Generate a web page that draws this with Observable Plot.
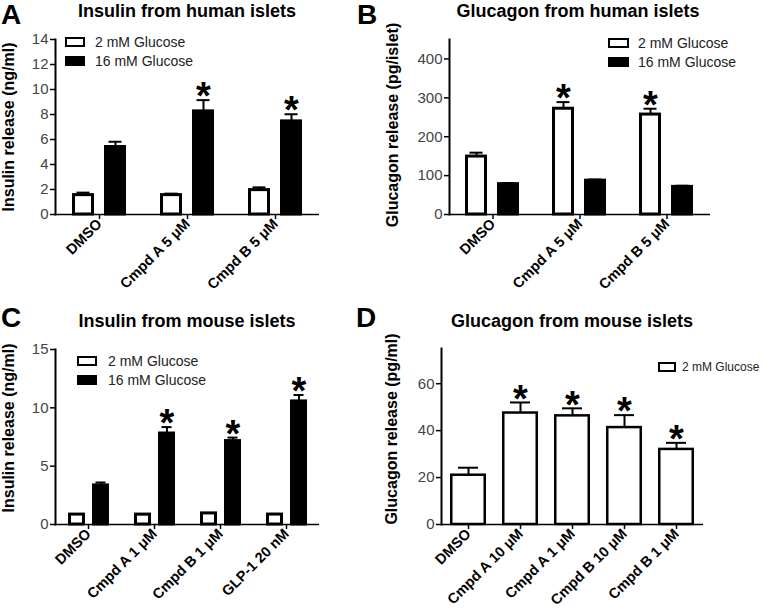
<!DOCTYPE html>
<html><head><meta charset="utf-8">
<script src="https://cdn.jsdelivr.net/npm/d3@7"></script>
<script src="https://cdn.jsdelivr.net/npm/@observablehq/plot@0.6"></script>
<style>
body{margin:0;background:#fff;}
#root{position:relative;width:762px;height:612px;font-family:Arial,"Liberation Sans",Helvetica,sans-serif;overflow:hidden;background:#fff;color:#000}
.panel{position:absolute;width:381px;height:306px}
.t{position:absolute;white-space:nowrap;line-height:1}
.letter{font-size:28px;font-weight:bold;transform:translate(-50%,-50%)}
.title{font-size:18px;font-weight:bold;transform:translate(-50%,-50%)}
.ylab{font-size:16px;font-weight:bold;transform:translate(-50%,-50%) rotate(-90deg)}
.leg{position:absolute;color:#222;white-space:nowrap;line-height:1}
.sw{position:absolute;box-sizing:border-box;border:2.5px solid #000}
</style></head><body><div id="root"></div>
<script>
const FONT = 'Arial, "Liberation Sans", Helvetica, sans-serif';

// ---- data ----
const seriesGlucose = ["2 mM Glucose", "16 mM Glucose"];
const seriesFill = ["#ffffff", "#000000"];

// A: Insulin from human islets (ng/ml)
const catsHuman = ["DMSO", "Cmpd A 5 μM", "Cmpd B 5 μM"];
const insHumanLow = [1.55, 1.55, 1.95];
const insHumanLowSem = [0.2, 0.12, 0.22];
const insHumanLowSig = [false, false, false];
const insHumanHigh = [5.4, 8.25, 7.45];
const insHumanHighSem = [0.42, 0.9, 0.57];
const insHumanHighSig = [false, true, true];
const insHumanTicks = [0, 2, 4, 6, 8, 10, 12, 14];

// B: Glucagon from human islets (pg/islet)
const gluHumanLow = [149, 272, 257];
const gluHumanLowSem = [10, 17, 15];
const gluHumanLowSig = [false, true, true];
const gluHumanHigh = [78, 87, 71];
const gluHumanHighSem = [3, 3, 3];
const gluHumanHighSig = [false, false, false];
const gluHumanTicks = [0, 100, 200, 300, 400];

// C: Insulin from mouse islets (ng/ml)
const catsMouseIns = ["DMSO", "Cmpd A 1 μM", "Cmpd B 1 μM", "GLP-1 20 nM"];
const insMouseLow = [0.85, 0.85, 0.95, 0.85];
const insMouseLowSem = [0.05, 0.03, 0.04, 0.06];
const insMouseLowSig = [false, false, false, false];
const insMouseHigh = [3.35, 7.8, 7.15, 10.55];
const insMouseHighSem = [0.25, 0.55, 0.3, 0.55];
const insMouseHighSig = [false, true, true, true];
const insMouseTicks = [0, 5, 10, 15];

// D: Glucagon from mouse islets (pg/ml), 2 mM glucose only
const catsMouseGlu = ["DMSO", "Cmpd A 10 μM", "Cmpd A 1 μM", "Cmpd B 10 μM", "Cmpd B 1 μM"];
const gluMouse = [21, 47.5, 46.3, 41.3, 32];
const gluMouseSem = [3.2, 4.5, 3.2, 5.3, 2.8];
const gluMouseSig = [false, true, true, true, true];
const gluMouseTicks = [0, 20, 40, 60];

// ---- helpers ----
function groupedRows(cats, lo, loSem, loSig, hi, hiSem, hiSig) {
  const rows = [];
  cats.forEach((c, i) => {
    rows.push({cat: c, series: seriesGlucose[0], mean: lo[i], sem: loSem[i], sig: loSig[i]});
    rows.push({cat: c, series: seriesGlucose[1], mean: hi[i], sem: hiSem[i], sig: hiSig[i]});
  });
  return rows;
}

const TICK_FS = 15, XLAB_FS = 14.5;

function groupedChart(cats, rows, yDomain, yTicks, m, capInset) {
  return Plot.plot({
    width: 381, height: 306,
    marginLeft: m[0], marginRight: m[1], marginTop: m[2], marginBottom: m[3],
    style: {fontFamily: FONT, background: "transparent", overflow: "visible", color: "#000"},
    fx: {domain: cats, padding: 0, label: null},
    x: {domain: seriesGlucose, paddingInner: 0.3, paddingOuter: 0.49, axis: null},
    y: {domain: yDomain, label: null},
    color: {domain: seriesGlucose, range: seriesFill},
    marks: [
      Plot.barY(rows, {fx: "cat", x: "series", y: "mean", fill: "series", stroke: "#000", strokeWidth: 3, insetLeft: 1.5, insetRight: 1.5}),
      Plot.ruleX(rows, {fx: "cat", x: "series", y1: "mean", y2: d => d.mean + d.sem, stroke: "#000", strokeWidth: 2}),
      Plot.tickY(rows, {fx: "cat", x: "series", y: d => d.mean + d.sem, stroke: "#000", strokeWidth: 2, insetLeft: capInset, insetRight: capInset}),
      Plot.text(rows.filter(d => d.sig), {fx: "cat", x: "series", y: d => d.mean + d.sem, text: () => "*", fontSize: 38, fontWeight: "bold", fill: "#000", dy: -3}),
      Plot.ruleY([0], {stroke: "#000", strokeWidth: 1.5}),
      Plot.frame({anchor: "left", facetAnchor: "left", stroke: "#000", strokeWidth: 2}),
      Plot.axisY({ticks: yTicks, tickSize: 5, tickPadding: 2, fontSize: TICK_FS, fill: "#444", stroke: "#000", strokeWidth: 1.5, label: null}),
      Plot.axisFx({anchor: "bottom", tickSize: 5, tickPadding: 2, tickRotate: -45, fontSize: XLAB_FS, fontWeight: "bold", fill: "#000", stroke: "#000", strokeWidth: 1.5, label: null})
    ]
  });
}

const root = document.getElementById("root");
function addPanel(chart, left, top) {
  const d = document.createElement("div");
  d.className = "panel";
  d.style.left = left + "px"; d.style.top = top + "px";
  d.appendChild(chart);
  root.appendChild(d);
}
function addText(cls, txt, x, y) {
  const d = document.createElement("div");
  d.className = "t " + cls;
  d.textContent = txt;
  d.style.left = x + "px"; d.style.top = y + "px";
  root.appendChild(d);
}
function addLegend(items, boxX, boxW, textX, rowYs, fs) {
  items.forEach((s, i) => {
    const b = document.createElement("div");
    b.className = "sw";
    b.style.left = boxX + "px"; b.style.top = (rowYs[i] - 5) + "px";
    b.style.width = boxW + "px"; b.style.height = "10px";
    b.style.background = seriesFill[seriesGlucose.indexOf(s)];
    root.appendChild(b);
    const t = document.createElement("div");
    t.className = "leg";
    t.textContent = s;
    t.style.fontSize = fs + "px";
    t.style.left = textX + "px"; t.style.top = (rowYs[i] - fs / 2) + "px";
    root.appendChild(t);
  });
}

// A
const rowsA = groupedRows(catsHuman, insHumanLow, insHumanLowSem, insHumanLowSig, insHumanHigh, insHumanHighSem, insHumanHighSig);
addPanel(groupedChart(catsHuman, rowsA, [0, 14], insHumanTicks, [55, 62, 39, 92], 4.5), 0, 0);
// B
const rowsB = groupedRows(catsHuman, gluHumanLow, gluHumanLowSem, gluHumanLowSig, gluHumanHigh, gluHumanHighSem, gluHumanHighSig);
addPanel(groupedChart(catsHuman, rowsB, [0, 450], gluHumanTicks, [67, 51, 39, 92], 4.5), 381, 0);
// C
const rowsC = groupedRows(catsMouseIns, insMouseLow, insMouseLowSem, insMouseLowSig, insMouseHigh, insMouseHighSem, insMouseHighSig);
addPanel(groupedChart(catsMouseIns, rowsC, [0, 15], insMouseTicks, [55, 62, 43, 88], 3.5), 0, 306);
// D
const rowsD = catsMouseGlu.map((c, i) => ({cat: c, mean: gluMouse[i], sem: gluMouseSem[i], sig: gluMouseSig[i]}));
const chartD = Plot.plot({
  width: 381, height: 306, marginLeft: 60, marginRight: 59, marginTop: 42, marginBottom: 88,
  style: {fontFamily: FONT, background: "transparent", overflow: "visible", color: "#000"},
  x: {domain: catsMouseGlu, paddingInner: 0.313, paddingOuter: 0.157, label: null},
  y: {domain: [0, 75], label: null},
  marks: [
    Plot.barY(rowsD, {x: "cat", y: "mean", fill: seriesFill[0], stroke: "#000", strokeWidth: 2.5, insetLeft: 1.25, insetRight: 1.25}),
    Plot.ruleX(rowsD, {x: "cat", y1: "mean", y2: d => d.mean + d.sem, stroke: "#000", strokeWidth: 2}),
    Plot.tickY(rowsD, {x: "cat", y: d => d.mean + d.sem, stroke: "#000", strokeWidth: 2, insetLeft: 8, insetRight: 8}),
    Plot.text(rowsD.filter(d => d.sig), {x: "cat", y: d => d.mean + d.sem, text: () => "*", fontSize: 38, fontWeight: "bold", fill: "#000", dy: -3}),
    Plot.ruleY([0], {stroke: "#000", strokeWidth: 1.5}),
    Plot.frame({anchor: "left", stroke: "#000", strokeWidth: 2}),
    Plot.axisY({ticks: gluMouseTicks, tickSize: 5, tickPadding: 2, fontSize: TICK_FS, fill: "#444", stroke: "#000", strokeWidth: 1.5, label: null}),
    Plot.axisX({anchor: "bottom", tickSize: 5, tickPadding: 2, tickRotate: -45, fontSize: XLAB_FS, fontWeight: "bold", fill: "#000", stroke: "#000", strokeWidth: 1.5, label: null})
  ]
});
addPanel(chartD, 381, 306);

// titles, letters, y labels
addText("letter", "A", 11, 15);
addText("letter", "B", 367, 15);
addText("letter", "C", 11, 318);
addText("letter", "D", 366, 318);
addText("title", "Insulin from human islets", 187, 11);
addText("title", "Glucagon from human islets", 578, 11);
addText("title", "Insulin from mouse islets", 187, 321);
addText("title", "Glucagon from mouse islets", 572, 321);
addText("ylab", "Insulin release (ng/ml)", 9, 127);
addText("ylab", "Glucagon release (pg/islet)", 393, 125);
addText("ylab", "Insulin release (ng/ml)", 9, 428);
addText("ylab", "Glucagon release (pg/ml)", 392, 429);

// legends
addLegend(seriesGlucose, 65, 20, 95, [42, 61], 14);
addLegend(seriesGlucose, 608, 21, 638, [43, 62], 14);
addLegend(seriesGlucose, 77, 20, 108, [361, 380], 14);
addLegend([seriesGlucose[0]], 658, 18, 682, [367], 12);
</script>
</body></html>
